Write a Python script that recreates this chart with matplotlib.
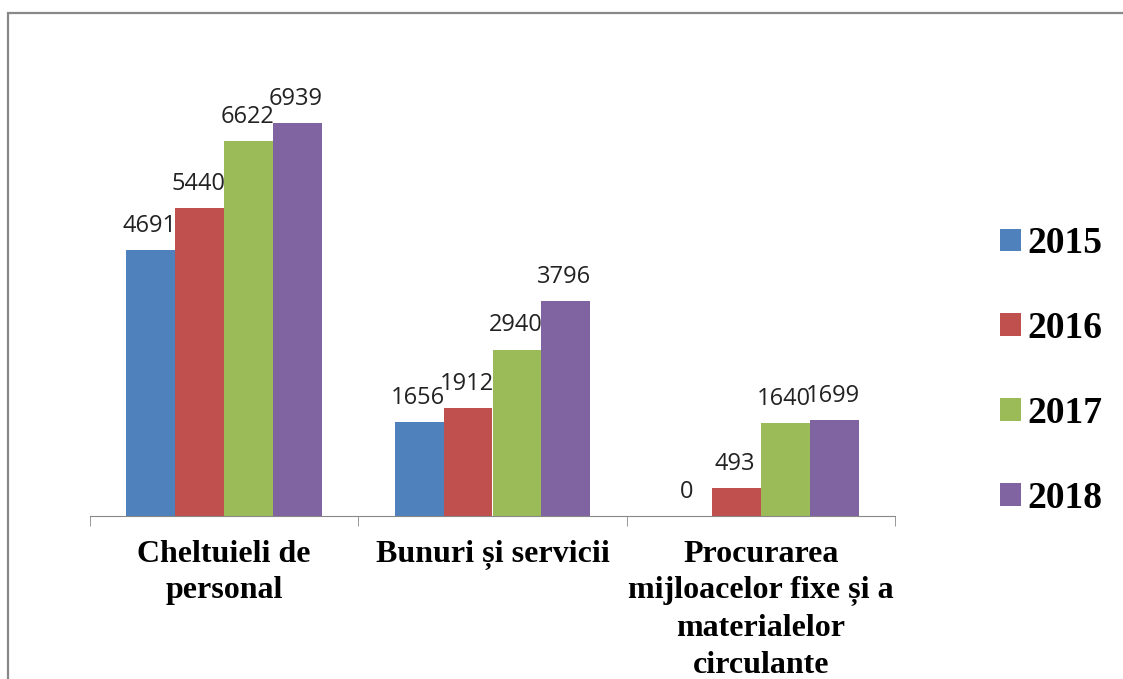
import matplotlib.pyplot as plt
import numpy as np
from matplotlib.patches import Rectangle

# Date
categorii = ['Cheltuieli de\npersonal', 'Bunuri și servicii',
             'Procurarea\nmijloacelor fixe și a\nmaterialelor\ncirculante']
ani = ['2015', '2016', '2017', '2018']
v2015 = [4691, 1656, 0]
v2016 = [5440, 1912, 493]
v2017 = [6622, 2940, 1640]
v2018 = [6939, 3796, 1699]
culori = ['#4F81BD', '#C0504D', '#9BBB59', '#8064A2']

serii = [v2015, v2016, v2017, v2018]

fig = plt.figure(figsize=(11.23, 6.79), dpi=100)
ax = fig.add_axes([90 / 1123, 1 - 516 / 679, 805 / 1123, 453 / 679])

x = np.arange(len(categorii))
w = 0.182
for i, (an, vals) in enumerate(zip(ani, serii)):
    pos = x + (i - 1.5) * w
    ax.bar(pos, vals, width=w, color=culori[i], label=an)
    for p, v in zip(pos, vals):
        ax.annotate(str(v), (p, v), xytext=(-1, 13), textcoords='offset points',
                    ha='center', va='baseline', fontsize=17, family='Open Sans',
                    color='#222222')

ax.set_xlim(-0.5, 2.5)
ax.set_ylim(0, 8000)
ax.set_yticks([])
for s in ['top', 'right', 'left']:
    ax.spines[s].set_visible(False)
ax.spines['bottom'].set_color('#888888')
ax.set_xticks([-0.5, 0.5, 1.5, 2.5], minor=True)
ax.set_xticks(x)
ax.set_xticklabels(categorii, fontsize=23, fontweight='bold', family='Liberation Serif',
                   linespacing=1.35, va='top')
ax.tick_params(axis='x', which='major', length=0, pad=17)
ax.tick_params(axis='x', which='minor', length=7, color='#888888', direction='out')

# Legenda
leg = fig.legend(loc='center left', bbox_to_anchor=(1000 / 1123, 1 - 371 / 679),
                 frameon=False, borderpad=0, borderaxespad=0,
                 prop={'family': 'Liberation Serif', 'weight': 'bold', 'size': 27},
                 handlelength=0.55, handleheight=0.55, handletextpad=0.18,
                 labelspacing=1.33)

# Chenar
fig.patches.append(Rectangle((8 / 1123, -0.1), 1.2, 1 - 13 / 679 + 0.1,
                             transform=fig.transFigure, fill=False,
                             edgecolor='#888888', linewidth=1.6))

plt.savefig('out.png', dpi=100)
